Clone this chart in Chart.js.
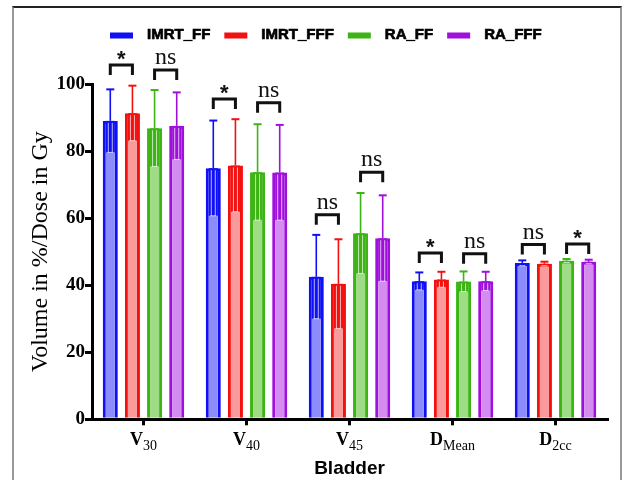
<!DOCTYPE html>
<html>
<head>
<meta charset="utf-8">
<title>Bladder</title>
<script src="https://cdn.jsdelivr.net/npm/chart.js@4/dist/chart.umd.min.js"></script>
<style>
  html, body { margin: 0; padding: 0; background: #fff; }
  #wrap { position: relative; width: 622px; height: 480px; overflow: hidden; }
  #frame {
    position: absolute; left: 12px; top: 6px; width: 606px; height: 490px;
    border-top: 2px solid #222; border-left: 2px solid #999; border-right: 2px solid #999;
    pointer-events: none;
  }
</style>
</head>
<body>
<div id="wrap">
  <canvas id="bladderChart" width="622" height="480"></canvas>
  <div id="frame"></div>
</div>
<script>
// --- DATA ---
const categories = ['V30', 'V40', 'V45', 'DMean', 'D2cc'];
const labelMain = ['V', 'V', 'V', 'D', 'D'];
const labelSub = ['30', '40', '45', 'Mean', '2cc'];
const seriesNames = ['IMRT_FF', 'IMRT_FFF', 'RA_FF', 'RA_FFF'];

const imrtFF = [89.0, 74.9, 42.5, 41.2, 46.6];
const imrtFFF = [91.3, 75.7, 40.4, 41.7, 46.4];
const raFF = [86.8, 73.7, 55.5, 41.1, 47.3];
const raFFF = [87.5, 73.6, 54.0, 41.2, 47.0];

const imrtFFsd = [9.4, 14.2, 12.5, 2.6, 0.8];
const imrtFFFsd = [8.2, 13.8, 13.3, 2.3, 0.6];
const raFFsd = [11.4, 14.3, 12.0, 3.0, 0.5];
const raFFFsd = [10.0, 14.2, 12.8, 2.8, 0.6];

// significance per category: [IMRT_FF vs IMRT_FFF, RA_FF vs RA_FFF]
const sigLabels = [['*', 'ns'], ['*', 'ns'], ['ns', 'ns'], ['*', 'ns'], ['ns', '*']];
const sigHeights = [[105.7, 104.2], [95.5, 94.4], [61.0, 73.7], [49.6, 49.4], [52.1, 52.3]];

const yTicks = [0, 20, 40, 60, 80, 100];

const solidColors = ['#1010f5', '#f51010', '#3cb414', '#a010dc'];
const paleColors = ['#8c8cfa', '#fa9a9a', '#9edc86', '#d48cf0'];

const means = [imrtFF, imrtFFF, raFF, raFFF];
const sds = [imrtFFsd, imrtFFFsd, raFFsd, raFFFsd];

const SERIF = '"Liberation Serif", "Times New Roman", serif';
const SANS = '"Liberation Sans", Arial, sans-serif';

// --- PLUGINS ---
const errorBarPlugin = {
  id: 'errorBars',
  afterDatasetsDraw(chart) {
    const ctx = chart.ctx;
    const y = chart.scales.y;
    chart.data.datasets.forEach((ds, di) => {
      const meta = chart.getDatasetMeta(di);
      meta.data.forEach((bar, i) => {
        const m = means[di][i];
        const s = sds[di][i];
        const yTop = y.getPixelForValue(m);
        const yHigh = y.getPixelForValue(m + s);
        const yLow = y.getPixelForValue(m - s);
        const inner = bar.width / 2 - 3;
        ctx.save();
        // lower half sits inside the bar
        ctx.fillStyle = solidColors[di];
        ctx.fillRect(bar.x - inner, yTop, inner * 2, yLow - yTop);
        ctx.strokeStyle = 'rgba(255,255,255,0.7)';
        ctx.lineWidth = 1;
        ctx.beginPath();
        ctx.moveTo(bar.x - 2, yTop + 2); ctx.lineTo(bar.x - 2, yLow);
        ctx.moveTo(bar.x + 2, yTop + 2); ctx.lineTo(bar.x + 2, yLow);
        ctx.moveTo(bar.x - 3, yLow); ctx.lineTo(bar.x + 3, yLow);
        ctx.stroke();
        // upper whisker
        ctx.strokeStyle = solidColors[di];
        ctx.lineWidth = 1.6;
        ctx.beginPath();
        ctx.moveTo(bar.x, yTop); ctx.lineTo(bar.x, yHigh);
        ctx.stroke();
        ctx.lineWidth = 2;
        ctx.beginPath();
        ctx.moveTo(bar.x - 4, yHigh); ctx.lineTo(bar.x + 4, yHigh);
        ctx.stroke();
        ctx.restore();
      });
    });
  }
};

const annotationPlugin = {
  id: 'sigBrackets',
  afterDraw(chart) {
    const ctx = chart.ctx;
    const x = chart.scales.x;
    const y = chart.scales.y;
    ctx.save();

    // significance brackets
    categories.forEach((c, i) => {
      [[0, 1], [2, 3]].forEach((pair, p) => {
        const a = chart.getDatasetMeta(pair[0]).data[i];
        const b = chart.getDatasetMeta(pair[1]).data[i];
        const top = y.getPixelForValue(sigHeights[i][p]);
        ctx.strokeStyle = '#111';
        ctx.lineWidth = 3;
        ctx.lineJoin = 'miter';
        ctx.beginPath();
        ctx.moveTo(a.x, top + 10);
        ctx.lineTo(a.x, top);
        ctx.lineTo(b.x, top);
        ctx.lineTo(b.x, top + 10);
        ctx.stroke();
        const mid = (a.x + b.x) / 2;
        const label = sigLabels[i][p];
        ctx.fillStyle = '#111';
        ctx.textAlign = 'center';
        ctx.textBaseline = 'alphabetic';
        if (label === '*') {
          ctx.font = 'bold 22px ' + SANS;
          ctx.fillText(label, mid, top + 1);
        } else {
          ctx.font = '24px ' + SERIF;
          ctx.fillText(label, mid, top - 6);
        }
      });
    });

    // category labels with subscripts
    categories.forEach((c, i) => {
      const cx = x.getPixelForTick(i);
      ctx.font = 'bold 18px ' + SERIF;
      const w1 = ctx.measureText(labelMain[i]).width;
      ctx.font = '14px ' + SERIF;
      const w2 = ctx.measureText(labelSub[i]).width;
      const start = cx - (w1 + w2) / 2;
      ctx.fillStyle = '#000';
      ctx.textAlign = 'left';
      ctx.textBaseline = 'alphabetic';
      ctx.font = 'bold 18px ' + SERIF;
      ctx.fillText(labelMain[i], start, 445);
      ctx.font = '14px ' + SERIF;
      ctx.fillText(labelSub[i], start + w1, 450);
    });

    // legend (heavy face faked with a thin stroke)
    ctx.font = 'bold 15px ' + SANS;
    ctx.textBaseline = 'alphabetic';
    ctx.textAlign = 'left';
    ctx.lineWidth = 0.7;
    ctx.strokeStyle = '#000';
    let lx = 110;
    chart.data.datasets.forEach((ds, di) => {
      ctx.fillStyle = solidColors[di];
      ctx.fillRect(lx, 32.5, 23, 6);
      ctx.fillStyle = '#000';
      ctx.fillText(ds.label, lx + 37, 38.5);
      ctx.strokeText(ds.label, lx + 37, 38.5);
      lx += 37 + ctx.measureText(ds.label).width + 14;
    });
    ctx.restore();
  }
};

// --- CHART ---
const datasets = seriesNames.map((name, di) => ({
  label: name,
  data: means[di],
  backgroundColor: paleColors[di],
  borderColor: solidColors[di],
  borderWidth: 3,
  borderSkipped: 'start',
  categoryPercentage: 0.86,
  barPercentage: 0.68
}));

new Chart(document.getElementById('bladderChart'), {
  type: 'bar',
  data: { labels: categories, datasets },
  options: {
    responsive: false,
    animation: false,
    layout: { padding: { top: 84, left: 26, right: 15, bottom: 0 } },
    plugins: { legend: { display: false }, tooltip: { enabled: false } },
    scales: {
      x: {
        grid: { display: true, drawOnChartArea: false, offset: false, drawTicks: true, tickLength: 6, color: '#000', lineWidth: 3 },
        border: { display: true, color: '#000', width: 3 },
        ticks: { display: false },
        title: {
          display: true, text: 'Bladder', color: '#000',
          font: { family: SANS, size: 19, weight: 'bold', lineHeight: 1.2 },
          padding: 0
        },
        afterFit(scale) { scale.height = 60.7; }
      },
      y: {
        min: 0, max: 100,
        afterBuildTicks(scale) { scale.ticks = yTicks.map(v => ({ value: v })); },
        grid: { drawOnChartArea: false, drawTicks: true, tickLength: 7, color: '#000', lineWidth: 3 },
        border: { display: true, color: '#000', width: 3 },
        ticks: {
          color: '#000', padding: 0,
          font: { family: SERIF, size: 19, weight: 'bold' }
        },
        title: {
          display: true, text: 'Volume in %/Dose in Gy', color: '#000',
          font: { family: SERIF, size: 24, lineHeight: 1.2 },
          padding: 0
        },
        afterFit(scale) { scale.width = 66; }
      }
    }
  },
  plugins: [errorBarPlugin, annotationPlugin]
});
</script>
</body>
</html>
